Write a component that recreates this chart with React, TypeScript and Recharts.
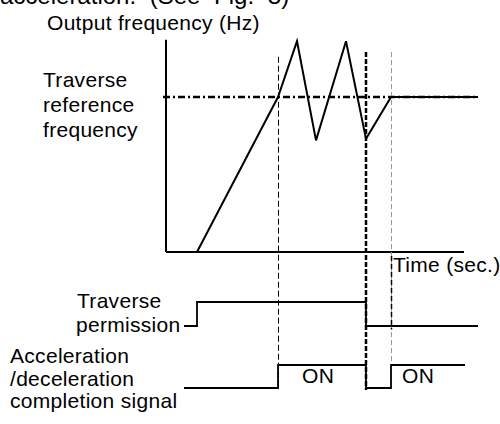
import { ComposedChart, Line, XAxis, YAxis, ReferenceLine } from "recharts";

// output frequency trace (time in arbitrary units, frequency in % of reference)
const freqTime = [3.1, 11.2, 13.1, 15.0, 18.0, 20.0, 22.5, 31.2];
const freqHz = [0, 100, 136, 72, 136, 73, 100, 100];
const refHz = 100;

// traverse permission signal (0 = off, 1 = on)
const permTime = [1.8, 3.1, 20.0, 31.2];
const permLevel = [0, 1, 0, 0];

// accel/decel completion signal
const doneTime = [1.8, 11.2, 20.0, 22.5, 29.9];
const doneLevel = [0, 1, 0, 1, 1];
const onLabels = ["ON", "ON"];

// event markers
const markerTime = [11.25, 20.0, 22.55];

const freqData = freqTime.map((t, i) => ({ t, v: freqHz[i] }));
const permData = permTime.map((t, i) => ({ t, v: permLevel[i] }));
const doneData = doneTime.map((t, i) => ({ t, v: doneLevel[i] }));

const font = "'Liberation Sans', Arial, sans-serif";
const fs = 21;

export default function App() {
  return (
    <div style={{ position: "absolute", left: 0, top: 0, width: 500, height: 424, background: "#fff" }}>
      <ComposedChart width={500} height={424} margin={{ top: 0, right: 0, bottom: 0, left: 0 }}>
        <XAxis type="number" dataKey="t" domain={[-16.6, 33.4]} hide />
        <YAxis yAxisId="f" type="number" domain={[-111, 162.6]} hide />
        <YAxis yAxisId="p" type="number" domain={[-4.083, 13.583]} hide />
        <YAxis yAxisId="d" type="number" domain={[-1.565, 16.87]} hide />

        {/* axes of the frequency plot */}
        <ReferenceLine yAxisId="f" segment={[{ x: 0, y: 0 }, { x: 0, y: 137 }]} stroke="#000" strokeWidth={2} ifOverflow="visible" />
        <ReferenceLine yAxisId="f" segment={[{ x: 0, y: 0 }, { x: 29.8, y: 0 }]} stroke="#000" strokeWidth={2} ifOverflow="visible" />

        {/* reference frequency */}
        <ReferenceLine
          yAxisId="f"
          segment={[{ x: -0.3, y: refHz }, { x: 31.2, y: refHz }]}
          stroke="#000"
          strokeWidth={2.5}
          strokeDasharray="7 3 2 3"
          ifOverflow="visible"
        />

        {/* event markers */}
        <ReferenceLine yAxisId="f" segment={[{ x: markerTime[0], y: 126 }, { x: markerTime[0], y: -89 }]} stroke="#000" strokeWidth={1} strokeDasharray="6 3" ifOverflow="visible" />
        <ReferenceLine yAxisId="f" segment={[{ x: markerTime[2], y: 129 }, { x: markerTime[2], y: -71 }]} stroke="#999" strokeWidth={1} strokeDasharray="5 3" ifOverflow="visible" />
        <ReferenceLine yAxisId="f" segment={[{ x: markerTime[2], y: -2.6 }, { x: markerTime[2], y: -50 }]} stroke="#000" strokeWidth={1.5} strokeDasharray="5 3" ifOverflow="visible" />

        <Line yAxisId="f" data={freqData} dataKey="v" type="linear" stroke="#000" strokeWidth={2} dot={false} activeDot={false} isAnimationActive={false} />
        <Line yAxisId="p" data={permData} dataKey="v" type="stepAfter" stroke="#000" strokeWidth={1.8} strokeDasharray="none" dot={false} activeDot={false} isAnimationActive={false} />
        <Line yAxisId="d" data={doneData} dataKey="v" type="stepAfter" stroke="#000" strokeWidth={1.8} strokeDasharray="none" dot={false} activeDot={false} isAnimationActive={false} />

        <ReferenceLine yAxisId="f" segment={[{ x: markerTime[1], y: 129 }, { x: markerTime[1], y: -89 }]} stroke="#000" strokeWidth={2.5} strokeDasharray="5 2" ifOverflow="visible" />

        {/* tail of the manual's sentence, cut by the crop like in the scan */}
        <text x={0} y={4} fontFamily={font} fontSize={24} wordSpacing={7} fill="#000">
          acceleration. (See Fig. 8)
        </text>

        <g fontFamily={font} fontSize={fs} fill="#000" letterSpacing={0.3}>
          <text x={47} y={30}>Output frequency (Hz)</text>
          <text x={43} y={87}>Traverse</text>
          <text x={43} y={112}>reference</text>
          <text x={43} y={137}>frequency</text>
          <text x={393} y={272}>Time (sec.)</text>
          <text x={77} y={308}>Traverse</text>
          <text x={76} y={332}>permission</text>
          <text x={10} y={363}>Acceleration</text>
          <text x={10} y={386}>/deceleration</text>
          <text x={10} y={408}>completion signal</text>
          <text x={302} y={383}>{onLabels[0]}</text>
          <text x={402} y={383}>{onLabels[1]}</text>
        </g>
      </ComposedChart>
    </div>
  );
}
